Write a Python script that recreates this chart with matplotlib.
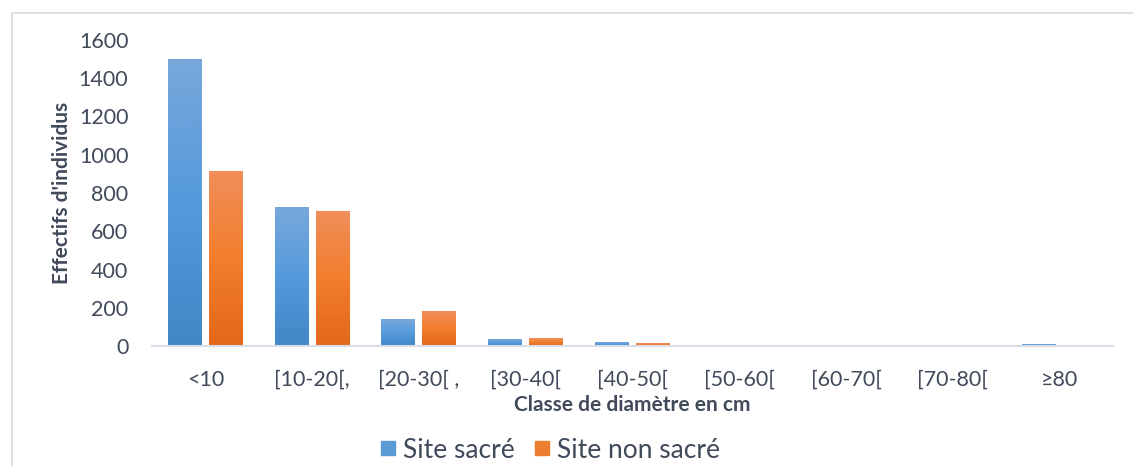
"""Diameter class distribution — sacred vs non-sacred site."""
import matplotlib.pyplot as plt
import numpy as np
from matplotlib.colors import LinearSegmentedColormap
from matplotlib.lines import Line2D
from matplotlib.patches import Rectangle

categories = ["<10", "[10-20[,", "[20-30[ ,", "[30-40[", "[40-50[",
              "[50-60[", "[60-70[", "[70-80[", "≥80"]
sacre = [1500, 722, 136, 33, 17, 0, 0, 0, 7]
non_sacre = [915, 701, 178, 39, 11, 0, 0, 0, 0]

TEXT = "#404a5a"
FONT = ["Lato", "DejaVu Sans"]

blue_cmap = LinearSegmentedColormap.from_list(
    "b", ["#4286c6", "#559adb", "#78a8db"])
orange_cmap = LinearSegmentedColormap.from_list(
    "o", ["#e2671a", "#f37e2c", "#f08e5a"])


def gradient_bars(ax, bars, cmap):
    grad = np.linspace(0, 1, 256).reshape(-1, 1)
    for b in bars:
        h = b.get_height()
        if h <= 0:
            continue
        x0 = b.get_x()
        ax.imshow(grad, cmap=cmap, origin="lower", aspect="auto",
                  extent=(x0, x0 + b.get_width(), 0, h), zorder=2)
        b.set_facecolor("none")


def main():
    plt.rcParams["font.family"] = FONT
    fig = plt.figure(figsize=(11.33, 4.66), dpi=100)
    fig.patches.append(Rectangle((12 / 1133, -0.05), 1.2, 1 - 13 / 466 + 0.05,
                                 transform=fig.transFigure, fill=False,
                                 edgecolor="#d9d9d9", lw=1.2))
    ax = fig.add_axes([152 / 1133, 1 - 346 / 466, (1113 - 152) / 1133,
                       (346 - 40) / 466])

    x = np.arange(len(categories))
    w = 0.318
    off = w / 2 + 0.033
    b1 = ax.bar(x - off, sacre, w, color="#5b9bd5", label="Site sacré", zorder=2)
    b2 = ax.bar(x + off, non_sacre, w, color="#ed7d31",
                label="Site non sacré", zorder=2)
    gradient_bars(ax, b1, blue_cmap)
    gradient_bars(ax, b2, orange_cmap)

    ax.set_xlim(-0.5, len(categories) - 0.5)
    ax.set_ylim(0, 1600)
    ax.set_yticks(range(0, 1601, 200))
    ax.set_xticks(x)
    ax.set_xticklabels(categories)
    ax.tick_params(length=0, labelsize=15.5, colors=TEXT)
    ax.tick_params(axis="x", pad=17)
    ax.tick_params(axis="y", pad=17)
    for s in ["top", "right", "left"]:
        ax.spines[s].set_visible(False)
    ax.spines["bottom"].set_color("#d9dde6")
    ax.spines["bottom"].set_linewidth(1.5)

    ax.set_ylabel("Effectifs d'individus", fontsize=15, fontweight="bold",
                  color=TEXT, labelpad=5)
    ax.set_xlabel("Classe de diamètre en cm", fontsize=15, fontweight="bold",
                  color=TEXT, labelpad=4)

    handles = [Line2D([], [], marker="s", ls="", markersize=10.5, color="#5b9bd5"),
               Line2D([], [], marker="s", ls="", markersize=10.5, color="#ed7d31")]
    fig.legend(handles, ["Site sacré", "Site non sacré"], loc="center",
               bbox_to_anchor=(546 / 1133, 1 - 450 / 466), ncol=2,
               frameon=False, fontsize=19, handletextpad=-0.05,
               handlelength=1.2, columnspacing=0.45, labelcolor=TEXT)

    fig.savefig("out.png", dpi=100)
    plt.close(fig)


if __name__ == "__main__":
    main()
